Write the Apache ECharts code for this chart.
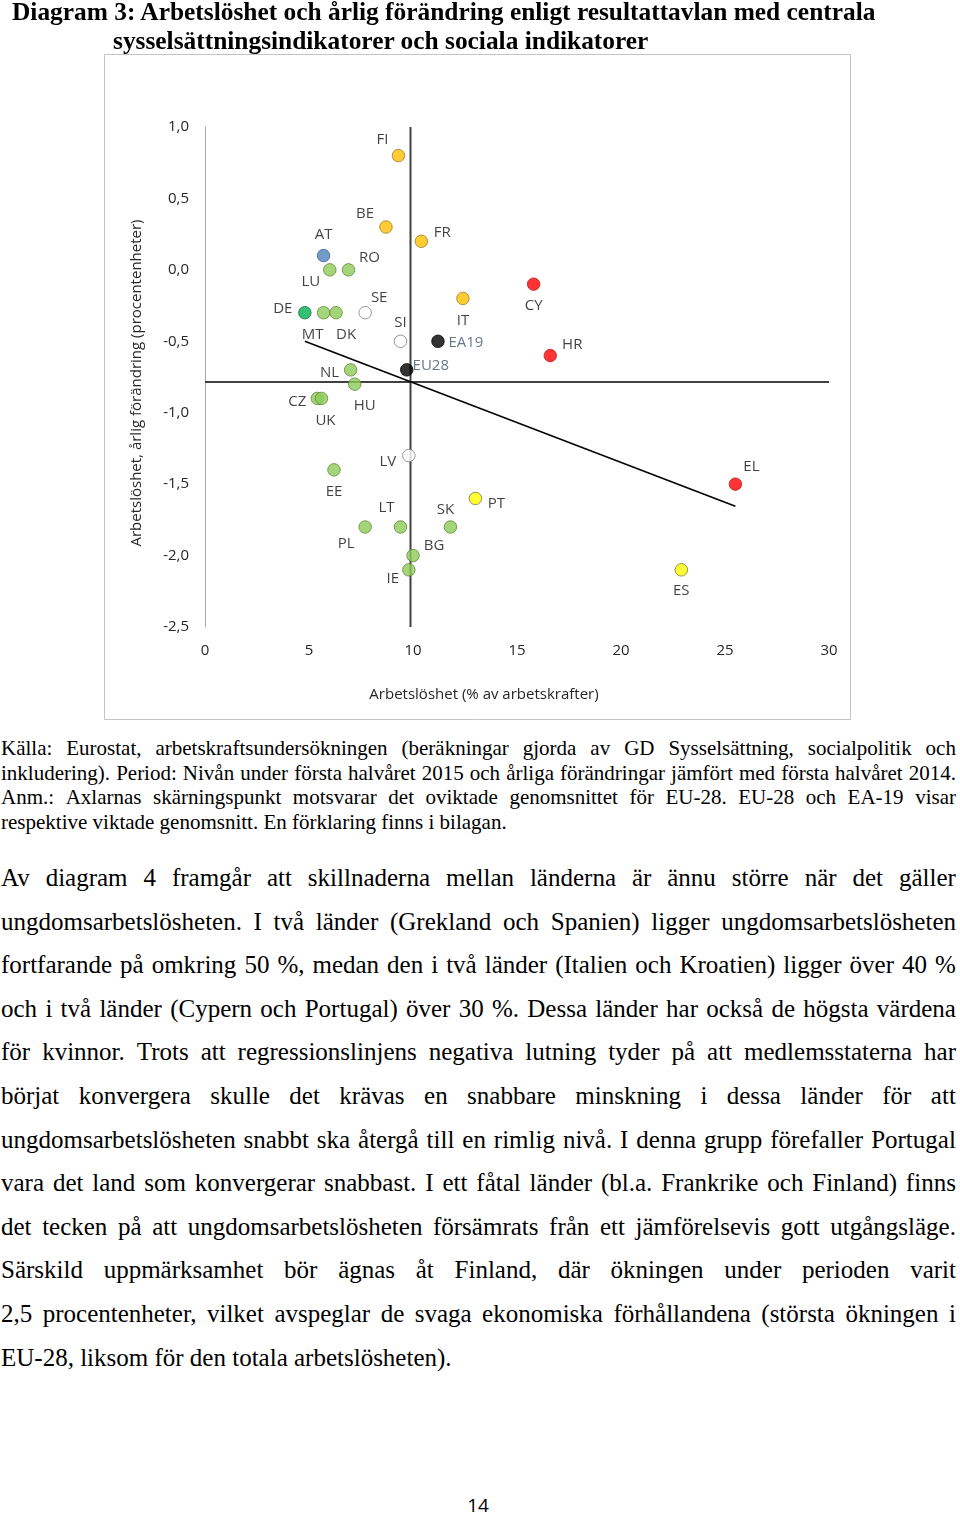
<!DOCTYPE html>
<html>
<head>
<meta charset="utf-8">
<script src="https://cdn.jsdelivr.net/npm/echarts@6/dist/echarts.min.js"></script>
<style>
  html, body { margin:0; padding:0; background:#fff; }
  body { width:960px; height:1515px; position:relative; overflow:hidden; }
  #chart { position:absolute; left:0; top:0; width:960px; height:730px; }
  .title { position:absolute; font-family:"Liberation Serif", "DejaVu Serif", serif; font-weight:bold; font-size:25.4px; line-height:29px; color:#000; white-space:nowrap; z-index:2; }
  .cap { position:absolute; left:1px; top:736px; width:955px; font-family:"Liberation Serif", serif; font-size:21px; line-height:24.6px; color:#000; }
  .body { position:absolute; left:1px; top:856px; width:955px; font-family:"Liberation Serif", serif; font-size:25px; line-height:43.6px; color:#000; }
  .j { display:flex; justify-content:space-between; white-space:nowrap; }
  .l { text-align:left; white-space:nowrap; }
  .page { position:absolute; left:0; width:956px; top:1492px; text-align:center; font-family:"Open Sans", sans-serif; font-size:19px; color:#000; }
</style>
</head>
<body>
<div class="title" style="left:12px;top:-3px;">Diagram 3: Arbetslöshet och årlig förändring enligt resultattavlan med centrala</div>
<div class="title" style="left:113px;top:26px;">sysselsättningsindikatorer och sociala indikatorer</div>
<div id="chart"></div>
<div class="cap">
  <div class="j">Källa: Eurostat, arbetskraftsundersökningen (beräkningar gjorda av GD Sysselsättning, socialpolitik och</div>
  <div class="j">inkludering). Period: Nivån under första halvåret 2015 och årliga förändringar jämfört med första halvåret 2014.</div>
  <div class="j">Anm.: Axlarnas skärningspunkt motsvarar det oviktade genomsnittet för EU-28. EU-28 och EA-19 visar</div>
  <div class="l">respektive viktade genomsnitt. En förklaring finns i bilagan.</div>
</div>
<div class="body">
  <div class="j">Av diagram 4 framgår att skillnaderna mellan länderna är ännu större när det gäller</div>
  <div class="j">ungdomsarbetslösheten. I två länder (Grekland och Spanien) ligger ungdomsarbetslösheten</div>
  <div class="j">fortfarande på omkring 50 %, medan den i två länder (Italien och Kroatien) ligger över 40 %</div>
  <div class="j">och i två länder (Cypern och Portugal) över 30 %. Dessa länder har också de högsta värdena</div>
  <div class="j">för kvinnor. Trots att regressionslinjens negativa lutning tyder på att medlemsstaterna har</div>
  <div class="j">börjat konvergera skulle det krävas en snabbare minskning i dessa länder för att</div>
  <div class="j">ungdomsarbetslösheten snabbt ska återgå till en rimlig nivå. I denna grupp förefaller Portugal</div>
  <div class="j">vara det land som konvergerar snabbast. I ett fåtal länder (bl.a. Frankrike och Finland) finns</div>
  <div class="j">det tecken på att ungdomsarbetslösheten försämrats från ett jämförelsevis gott utgångsläge.</div>
  <div class="j">Särskild uppmärksamhet bör ägnas åt Finland, där ökningen under perioden varit</div>
  <div class="j">2,5 procentenheter, vilket avspeglar de svaga ekonomiska förhållandena (största ökningen i</div>
  <div class="l">EU-28, liksom för den totala arbetslösheten).</div>
</div>
<div class="page">14</div>
<script>
// justify each full line by spreading its words
document.querySelectorAll('.j').forEach(d => {
  const words = d.textContent.trim().split(/\s+/);
  d.textContent = '';
  words.forEach(w => { const s = document.createElement('span'); s.textContent = w; d.appendChild(s); });
});

// ---- data ----
const countries    = ['FI','BE','FR','AT','LU','RO','CY','IT','DE','MT','DK','SE','SI','EA19','HR','EU28','NL','HU','CZ','UK','LV','EE','EL','PT','PL','LT','SK','BG','IE','ES'];
const unemployment = [9.3, 8.7, 10.4, 5.7, 6.0, 6.9, 15.8, 12.4, 4.8, 5.7, 6.3, 7.7, 9.4, 11.2, 16.6, 9.7, 7.0, 7.2, 5.4, 5.6, 9.8, 6.2, 25.5, 13.0, 7.7, 9.4, 11.8, 10.0, 9.8, 22.9];
const annualChange = [0.8, 0.3, 0.2, 0.1, 0.0, 0.0, -0.1, -0.2, -0.3, -0.3, -0.3, -0.3, -0.5, -0.5, -0.6, -0.7, -0.7, -0.8, -0.9, -0.9, -1.3, -1.4, -1.5, -1.6, -1.8, -1.8, -1.8, -2.0, -2.1, -2.1];
const colourGroup  = ['orange','orange','orange','blue','green','green','red','orange','darkgreen','green','green','white','white','black','red','black','green','green','green','green','white','green','red','yellow','green','green','green','green','green','yellow'];
const xRange = [0, 30];
const yRange = [-2.5, 1.0];
const xStep = 5;
const yStep = 0.5;
const crossX = 9.88;      // unweighted EU-28 average, unemployment
const crossY = -0.785;    // unweighted EU-28 average, annual change
const trendX = [4.8, 25.5];
const trendY = [-0.50, -1.655];
const xAxisTitle = 'Arbetslöshet (% av arbetskrafter)';
const yAxisTitle = 'Arbetslöshet, årlig förändring (procentenheter)';

// ---- styles ----
const groupStyle = {
  orange:   { fill:'#FFC000', border:'#9a7b2a' },
  green:    { fill:'#8FCB57', border:'#5f8a3a' },
  darkgreen:{ fill:'#00B050', border:'#1f6f3f' },
  blue:     { fill:'#4F81BD', border:'#3d6290' },
  red:      { fill:'#FF0000', border:'#b22222' },
  yellow:   { fill:'#FFFF00', border:'#7a7a30' },
  white:    { fill:'#FFFFFF', border:'#7f7f7f' },
  black:    { fill:'#000000', border:'#000000' }
};
const labelOffset = {
  FI:[-16,-16], BE:[-21,-13], FR:[21,-9], AT:[0,-21], LU:[-19,12], RO:[21,-12],
  CY:[0,22], IT:[0,22], DE:[-22,-4], MT:[-11,22], DK:[10,22], SE:[14,-15],
  SI:[0,-19], EA19:[28,1], HR:[22,-11], EU28:[24,-4], NL:[-21,3], HU:[10,22],
  CZ:[-20,3], UK:[4,22], LV:[-21,6], EE:[0,22], EL:[16,-17], PT:[21,5],
  PL:[-19,17], LT:[-14,-19], SK:[-5,-17], BG:[21,-10], IE:[-16,9], ES:[0,21]
};
const labelColour = { EA19:'#44546A', EU28:'#44546A' };
const FONT = '"Open Sans", sans-serif';

const points = countries.map((c, i) => {
  const g = groupStyle[colourGroup[i]];
  return {
    name: c,
    value: [unemployment[i], annualChange[i]],
    itemStyle: { color: g.fill, borderColor: g.border, borderWidth: 1 },
    label: {
      show: true, formatter: c, position: 'inside', offset: labelOffset[c],
      color: labelColour[c] || '#111', fontSize: 15, fontFamily: FONT
    }
  };
});

const chart = echarts.init(document.getElementById('chart'), null, { renderer: 'canvas' });
chart.setOption({
  animation: false,
  backgroundColor: 'transparent',
  grid: { left: 205, right: 131, top: 127, height: 500, containLabel: false },
  xAxis: {
    type: 'value', min: xRange[0], max: xRange[1], interval: xStep,
    axisLine: { show: false, onZero: false }, axisTick: { show: false }, splitLine: { show: false },
    axisLabel: { color: '#262626', fontSize: 15, fontFamily: FONT, margin: 16 }
  },
  yAxis: {
    type: 'value', min: yRange[0], max: yRange[1], interval: yStep,
    axisLine: { show: true, onZero: false, lineStyle: { color: '#a6a6a6', width: 1 } },
    axisTick: { show: false }, splitLine: { show: false },
    axisLabel: { color: '#262626', fontSize: 15, fontFamily: FONT, margin: 16,
      formatter: v => v.toFixed(1).replace('.', ',') }
  },
  graphic: [
    { type: 'rect', silent: true, z: -10, shape: { x: 104.5, y: 54.5, width: 746, height: 665 },
      style: { fill: 'none', stroke: '#c4c4c4', lineWidth: 1 } },
    { type: 'text', silent: true, x: 484, y: 695,
      style: { text: xAxisTitle, font: '15px ' + FONT, fill: '#262626', align: 'center', verticalAlign: 'middle', textAlign: 'center', textVerticalAlign: 'middle' } },
    { type: 'text', silent: true, x: 137, y: 383, rotation: Math.PI / 2,
      style: { text: yAxisTitle, font: '15px ' + FONT, fill: '#262626', align: 'center', verticalAlign: 'middle', textAlign: 'center', textVerticalAlign: 'middle' } }
  ],
  series: [
    { type: 'line', silent: true, symbol: 'none', z: 1,
      data: [[crossX, yRange[0]], [crossX, yRange[1]]],
      lineStyle: { color: '#404040', width: 2 } },
    { type: 'line', silent: true, symbol: 'none', z: 1,
      data: [[xRange[0], crossY], [xRange[1], crossY]],
      lineStyle: { color: '#404040', width: 2 } },
    { type: 'line', silent: true, symbol: 'none', z: 1,
      data: [[trendX[0], trendY[0]], [trendX[1], trendY[1]]],
      lineStyle: { color: '#000', width: 1.5 } },
    { type: 'scatter', z: 3, symbol: 'circle', symbolSize: 12.5, data: points }
  ]
});
</script>
</body>
</html>
